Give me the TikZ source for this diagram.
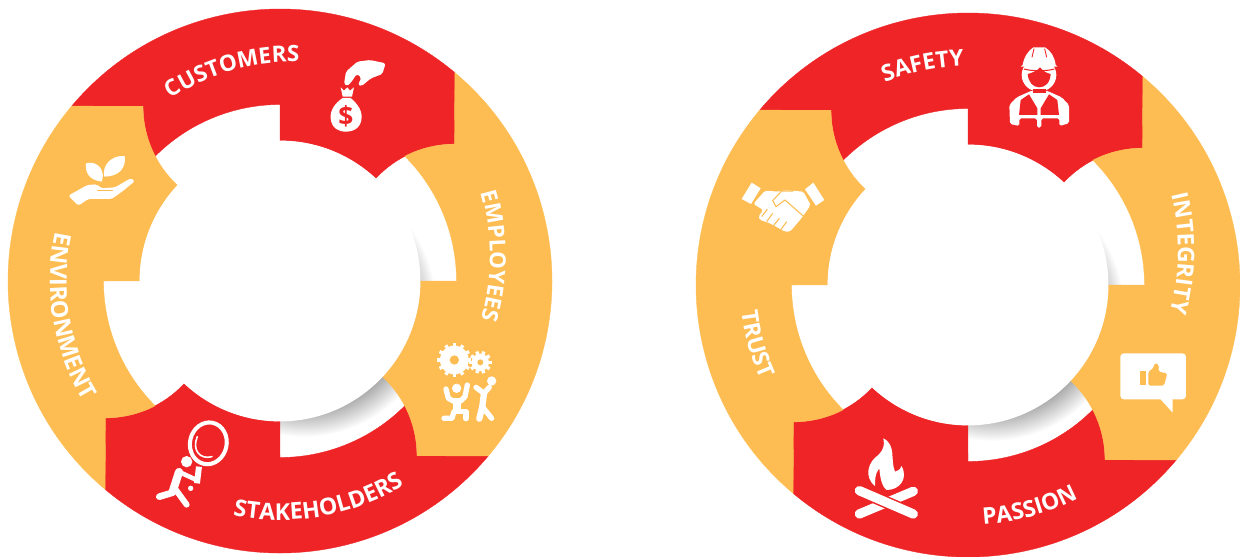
\documentclass[tikz,border=0pt]{standalone}
\usepackage{fontspec}
\setmainfont{Open Sans}
\usepackage{xcolor}
\usepackage{tikz}
\usetikzlibrary{decorations.text}
\definecolor{ringred}{RGB}{238,36,39}
\definecolor{ringorange}{RGB}{253,189,83}
\definecolor{shadowgray}{RGB}{120,120,120}
\pgfdeclareradialshading{ringshade}{\pgfpointorigin}{color(0bp)=(shadowgray); color(17bp)=(shadowgray); color(25bp)=(white)}
\newcommand{\labelfont}[1]{\color{white}\fontsize{#1}{15}\selectfont\bfseries}
\newcommand{\ringlabel}[6][13]{%
  \path[decorate, decoration={text along path, text align=center, text={|\labelfont{#1}|#6}}]
    ([shift={(#2)}]#4:#3) arc[start angle=#4, end angle=#5, radius=#3];}
\tikzset{
  piece/.style={line width=0.2pt},
  icon/.style={fill=white, draw=none},
  limb/.style={draw=white, line cap=round, line join=round, line width=3pt},
  cropa/.style={shift={(0,556)}, xscale=0.3333, yscale=-0.3333},
  cropb/.style={shift={(270,556)}, xscale=0.3333, yscale=-0.3333},
  cropc/.style={shift={(270,286)}, xscale=0.3333, yscale=-0.3333},
  cropd/.style={shift={(0,286)}, xscale=0.3333, yscale=-0.3333},
  crope/.style={shift={(690,556)}, xscale=0.3333, yscale=-0.3333},
  cropf/.style={shift={(960,556)}, xscale=0.3333, yscale=-0.3333},
  cropg/.style={shift={(960,286)}, xscale=0.3333, yscale=-0.3333},
  croph/.style={shift={(690,286)}, xscale=0.3333, yscale=-0.3333}
}
\begin{document}
\begin{tikzpicture}[x=0.02cm, y=0.02cm]
  \useasboundingbox (0,0) rectangle (1240,556);

  % the two rings
  \foreach \cx/\cy in {280/275, 968/271} {
    \begin{scope}[shift={(\cx,\cy)}]
      \shade[shading=ringshade] (24,-24) circle[radius=132];
      \foreach \rot/\col in {0/ringred, 180/ringred, -90/ringorange, 90/ringorange} {
        \filldraw[piece, rotate=\rot, fill=\col, draw=\col]
          (140:272) arc[start angle=140, end angle=50, radius=272]
          -- (174.8,137) arc[start angle=90, end angle=137, radius=108]
          arc[start angle=47, end angle=90, radius=140.4]
          -- (0,176.5) arc[start angle=90, end angle=135, radius=176.5]
          arc[start angle=207.3, end angle=180, radius=108.2] -- cycle;
      }
      \fill[white] (0,0) circle[radius=140.4];
    \end{scope}
  }

  % labels
  \begin{scope}[shift={(280,275)}]
    \ringlabel[12.8]{10,9}{210}{146}{66}{CUSTOMERS}
    \ringlabel[12.6]{-11,25}{221}{40}{-40}{EMPLOYEES}
    \ringlabel[13.2]{0,0}{239}{240}{320}{STAKEHOLDERS}
    \ringlabel[13.3]{0,0}{230}{149.5}{229.5}{ENVIRONMENT}
  \end{scope}
  \begin{scope}[shift={(968,271)}]
    \ringlabel{0,0}{219}{141.7}{61.7}{SAFETY}
    \ringlabel{-25,34}{235}{29.4}{-30.6}{INTEGRITY}
    \ringlabel{0,0}{240}{245.5}{325.5}{PASSION}
    \ringlabel{0,0}{228}{165.6}{225.6}{TRUST}
  \end{scope}

  % money bag
  \begin{scope}[cropb]
    \fill[icon, rounded corners=1pt] (222,252) -- (228,215) -- (262,185) -- (300,180) -- (347,190)
      -- (337,222) -- (303,235) -- (275,258) -- (264,256) -- (274,232) -- (260,222) -- (245,245) -- (232,258) -- cycle;
    \fill[icon] (212,262) -- (222,272) -- (232,262) -- (240,272) -- (252,262) -- (246,290) -- (218,290) -- cycle;
    \fill[icon] (218,294) .. controls (195,310) and (180,330) .. (182,355)
      .. controls (185,385) and (205,395) .. (228,395)
      .. controls (255,395) and (275,380) .. (275,350)
      .. controls (275,325) and (255,305) .. (242,294) -- cycle;
    \node[text=ringred, font=\fontsize{15}{15}\selectfont\bfseries] (dollar) at (228,348) {\$};
  \end{scope}

  % plant in a hand
  \begin{scope}[cropa]
    \fill[icon, rounded corners=1pt] (205,587) -- (262,555) -- (290,553) -- (305,565) -- (345,562) -- (392,535)
      -- (405,543) -- (370,572) -- (335,597) -- (265,597) -- (235,617) -- cycle;
    \fill[icon] (258,490) .. controls (295,480) and (318,515) .. (305,545)
      .. controls (265,540) and (255,515) .. (258,490) -- cycle;
    \fill[icon] (374,468) .. controls (335,465) and (305,495) .. (313,530)
      .. controls (355,530) and (380,505) .. (374,468) -- cycle;
    \draw[ringorange, line width=0.6pt] (292,572) -- (338,572);
  \end{scope}

  % gears and two people
  \begin{scope}[cropc]
    \foreach \gx/\gy/\gr/\gh/\gn in {553/270/43/14/12, 631/277/26/9/10} {
      \fill[icon] (\gx,\gy) circle[radius=\gr];
      \foreach \i in {1,...,\gn} {
        \fill[icon, shift={(\gx,\gy)}, rotate=360*\i/\gn]
          (\gr-3,-5) rectangle (\gr+8,5);
      }
      \fill[ringorange] (\gx,\gy) circle[radius=\gh];
    }
    \fill[icon] (560,355) circle[radius=14];
    \fill[icon] (665,333) circle[radius=14];
    \draw[limb] (528,357) -- (535,385) -- (550,393) -- (572,393) -- (585,380) -- (592,345);
    \draw[limb, line width=4.5pt, line cap=butt] (560,385) -- (560,425);
    \draw[limb] (560,425) -- (588,425) -- (588,446);
    \draw[limb] (552,425) -- (546,445) -- (522,445);
    \draw[limb] (618,352) -- (642,370) -- (658,352);
    \draw[limb, line width=3.6pt] (642,370) -- (637,410) -- (628,446);
    \draw[limb] (637,410) -- (665,445);
  \end{scope}

  % runner with a magnifier
  \begin{scope}[cropd]
    \draw[white, line width=2.3pt, rotate around={12:(625,520)}] (625,520) ellipse[x radius=55, y radius=63];
    \draw[white, line width=0.9pt, line cap=round] (592,500) .. controls (575,540) and (600,570) .. (636,560);
    \draw[limb, line cap=butt, line width=3.4pt] (597,590) -- (591,640);
    \fill[icon] (560,575) circle[radius=17];
    \fill[icon] (572,655) circle[radius=8];
    \draw[limb, line width=4.6pt] (537,606) -- (518,665);
    \draw[limb, line width=3.8pt] (518,668) -- (478,680);
    \draw[limb, line width=3.4pt] (528,660) -- (560,704);
    \draw[limb, line width=2.6pt] (542,608) -- (590,630);
  \end{scope}

  % handshake
  \begin{scope}[crope]
    \fill[icon] (155,597) -- (185,548) -- (212,565) -- (183,612) -- cycle;
    \fill[icon] (345,568) -- (370,548) -- (403,600) -- (378,617) -- cycle;
    \fill[icon, rounded corners=1pt] (190,612) -- (225,572) -- (265,575) -- (285,570) -- (340,575) -- (362,615)
      -- (345,640) -- (330,660) -- (300,695) -- (285,695) -- (240,670) -- (210,660) -- (205,650) -- (220,630) -- cycle;
    \draw[ringorange, line width=0.6pt, line join=round] (310,573) -- (275,573) -- (248,602) -- (258,620) -- (285,600) -- (342,650);
    \draw[ringorange, line width=0.6pt] (232,628) -- (215,650) (248,640) -- (230,665) (268,655) -- (250,678) (290,665) -- (272,690);
  \end{scope}

  % worker with a helmet
  \begin{scope}[cropf]
    \fill[icon] (237,225) ellipse[x radius=52, y radius=50];
    \fill[icon] (188,195) .. controls (192,170) and (205,152) .. (220,142) -- (255,142)
      .. controls (272,152) and (284,170) .. (287,195) -- (293,200) -- (182,200) -- cycle;
    \draw[ringred, line width=0.5pt] (222,146) -- (216,172) (254,146) -- (260,172);
    \draw[ringred, line width=0.6pt] (192,207) .. controls (215,214) and (260,214) .. (283,207);
    \fill[ringred] (203,222) .. controls (218,218) and (232,212) .. (240,202)
      .. controls (250,215) and (262,220) .. (272,222) .. controls (270,250) and (255,262) .. (237,262)
      .. controls (218,262) and (205,245) .. (203,222) -- cycle;
    \fill[icon, rounded corners=1pt] (148,315) -- (170,292) -- (215,272) -- (260,272) -- (305,292) -- (327,315)
      -- (327,370) -- (298,378) -- (298,355) -- (244,355) -- (244,383) -- (231,383) -- (231,355) -- (178,355)
      -- (178,378) -- (150,372) -- cycle;
    \fill[ringred] (182,300) -- (207,283) -- (232,325) -- (232,345) -- (177,345) -- cycle;
    \fill[ringred] (292,300) -- (267,283) -- (242,325) -- (242,345) -- (297,345) -- cycle;
    \fill[ringred] (218,268) rectangle (258,278);
  \end{scope}

  % thumb in a speech bubble
  \begin{scope}[cropg]
    \fill[icon, rounded corners=2pt] (481,250) rectangle (678,388);
    \fill[icon] (600,386) -- (638,428) -- (638,386) -- cycle;
    \fill[ringorange] (540,302) rectangle (558,345);
    \fill[ringorange, rounded corners=1pt] (565,305) -- (580,295) -- (585,278) -- (597,285) -- (595,305) -- (622,310) -- (612,347) -- (565,347) -- cycle;
  \end{scope}

  % camp fire
  \begin{scope}[croph]
    \fill[icon] (580,505) .. controls (620,525) and (600,570) .. (615,605)
      .. controls (630,600) and (632,595) .. (635,588) .. controls (655,625) and (630,660) .. (590,660)
      .. controls (575,650) and (570,620) .. (568,595) .. controls (555,610) and (555,630) .. (555,648)
      .. controls (520,620) and (535,575) .. (565,555) .. controls (580,540) and (585,525) .. (580,505) -- cycle;
    \draw[limb, line width=5.3pt] (670,664) -- (508,732);
    \draw[ringred, line width=7pt] (540,676) -- (640,719);
    \draw[limb, line width=5.3pt] (508,662) -- (670,732);
  \end{scope}
\end{tikzpicture}
\end{document}
